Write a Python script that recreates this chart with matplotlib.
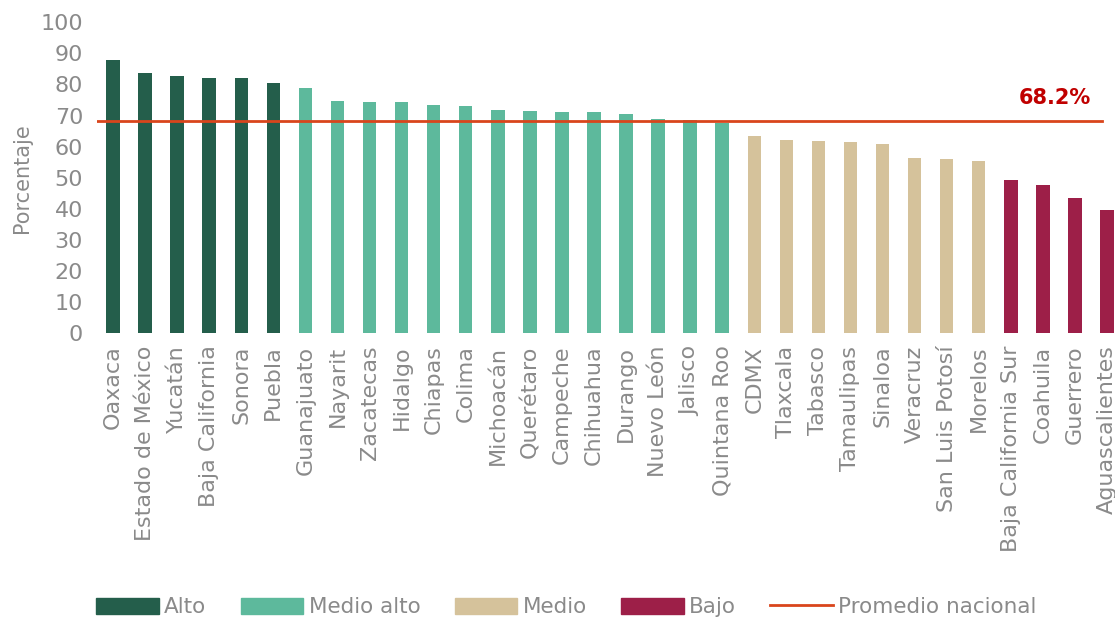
import numpy as np
import matplotlib.pyplot as plt
from matplotlib.patches import Patch
from matplotlib.lines import Line2D

plt.rcParams['font.family'] = ['DejaVu Sans']

estados = ['Oaxaca', 'Estado de México', 'Yucatán', 'Baja California', 'Sonora',
           'Puebla', 'Guanajuato', 'Nayarit', 'Zacatecas', 'Hidalgo', 'Chiapas',
           'Colima', 'Michoacán', 'Querétaro', 'Campeche', 'Chihuahua', 'Durango',
           'Nuevo León', 'Jalisco', 'Quintana Roo', 'CDMX', 'Tlaxcala', 'Tabasco',
           'Tamaulipas', 'Sinaloa', 'Veracruz', 'San Luis Potosí', 'Morelos',
           'Baja California Sur', 'Coahuila', 'Guerrero', 'Aguascalientes']
valores = [87.8, 83.8, 82.8, 82.1, 82.0, 80.6, 78.8, 74.6, 74.5, 74.3, 73.4,
           72.9, 71.8, 71.5, 71.2, 71.0, 70.6, 68.9, 68.6, 67.7, 63.5, 62.1,
           61.7, 61.5, 60.8, 56.3, 55.9, 55.3, 49.2, 47.5, 43.4, 39.5]
niveles = ['Alto'] * 6 + ['Medio alto'] * 14 + ['Medio'] * 8 + ['Bajo'] * 4
promedio = 68.2

colores = {'Alto': '#245E4B', 'Medio alto': '#5DB99C',
           'Medio': '#D5C29B', 'Bajo': '#9D1F48'}
rojo = '#D9451C'
gris = '#8A8A8A'

fig = plt.figure(figsize=(11.15, 6.18), dpi=100)
ax = fig.add_axes([0.087, 0.461, 0.913, 0.503])

x = np.arange(len(estados))
ax.bar(x, valores, width=0.42, color=[colores[n] for n in niveles])
ax.plot([-0.55, 30.85], [promedio, promedio], color=rojo, lw=2)
ax.text(30.5, promedio + 7.4, f'{promedio}%', color='#C00000', fontsize=15,
        fontweight='bold', ha='right', va='center')

ax.set_xlim(-0.5, 31.25)
ax.set_ylim(0, 100)
ax.set_yticks(range(0, 101, 10))
ax.set_xticks(x)
ax.set_xticklabels(estados, rotation=90, fontsize=16, color=gris)
ax.tick_params(axis='y', labelsize=16, labelcolor=gris, length=0, pad=10)
ax.tick_params(axis='x', length=0, pad=9)
for s in ax.spines.values():
    s.set_visible(False)
ax.set_ylabel('Porcentaje', fontsize=15, color=gris, labelpad=6)

handles = [Patch(color=colores[k]) for k in colores]
handles.append(Line2D([], [], color=rojo, lw=2))
fig.legend(handles, list(colores) + ['Promedio nacional'], loc='lower center',
           bbox_to_anchor=(0.508, -0.03), ncol=5, frameon=False, fontsize=15.5,
           labelcolor=gris, handlelength=2.9, handleheight=0.75,
           columnspacing=1.6, handletextpad=0.25)

fig.savefig('out.png', dpi=100)
